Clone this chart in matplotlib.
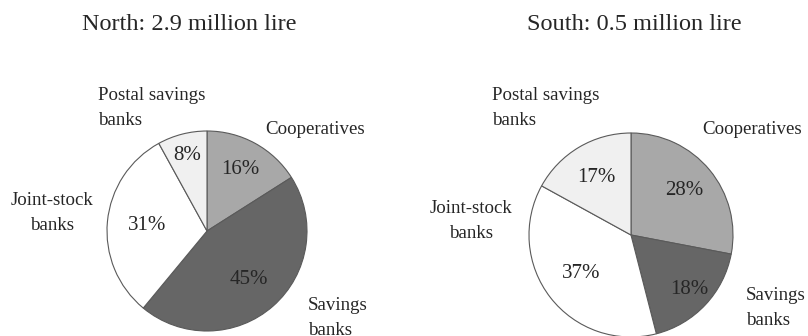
import numpy as np
import matplotlib.pyplot as plt

plt.rcParams['font.family'] = ['Liberation Serif', 'DejaVu Serif']

categories = ["Cooperatives", "Savings banks", "Joint-stock banks", "Postal savings banks"]
north_share = [16, 45, 31, 8]
south_share = [28, 18, 37, 17]
titles = ["North: 2.9 million lire", "South: 0.5 million lire"]

colors = ["#a8a8a8", "#666666", "#ffffff", "#f0f0f0"]
text_color = "#262626"

W, H = 808, 336
fig = plt.figure(figsize=(W / 100, H / 100), dpi=100)
ax = fig.add_axes([0, 0, 1, 1])


def draw_pie(values, cx, cy, r, pct_dist):
    wedges, _ = ax.pie(values, colors=colors, startangle=90, counterclock=False,
                       center=(cx, H - cy), radius=r,
                       wedgeprops=dict(edgecolor="#5a5a5a", linewidth=0.8))
    for w, v, d in zip(wedges, values, pct_dist):
        mid = np.deg2rad((w.theta1 + w.theta2) / 2)
        ax.text(cx + d * r * np.cos(mid), H - cy + d * r * np.sin(mid), f"{v}%",
                ha="center", va="center", fontsize=15, color=text_color)


draw_pie(north_share, 207, 231, 100, [0.70, 0.64, 0.60, 0.78])
draw_pie(south_share, 631, 235, 102, [0.68, 0.78, 0.62, 0.66])

# titles
ax.text(189, H - 25, titles[0], ha="center", va="center", fontsize=17.5, color=text_color)
ax.text(634, H - 25, titles[1], ha="center", va="center", fontsize=17.5, color=text_color)

# category labels, North
lab = dict(fontsize=13.6, color=text_color, va="center", linespacing=1.6)
ax.text(98, H - 108, "Postal savings\nbanks", ha="left", **lab)
ax.text(265, H - 130, "Cooperatives", ha="left", **lab)
ax.text(52, H - 213, "Joint-stock\nbanks", ha="center", multialignment="center", **lab)
ax.text(308, H - 318, "Savings\nbanks", ha="left", **lab)

# category labels, South
ax.text(492, H - 108, "Postal savings\nbanks", ha="left", **lab)
ax.text(702, H - 130, "Cooperatives", ha="left", **lab)
ax.text(471, H - 221, "Joint-stock\nbanks", ha="center", multialignment="center", **lab)
ax.text(746, H - 308, "Savings\nbanks", ha="left", **lab)

ax.set_xlim(0, W)
ax.set_ylim(0, H)
ax.set_aspect("equal")
ax.axis("off")

fig.savefig("out.png", dpi=100)
